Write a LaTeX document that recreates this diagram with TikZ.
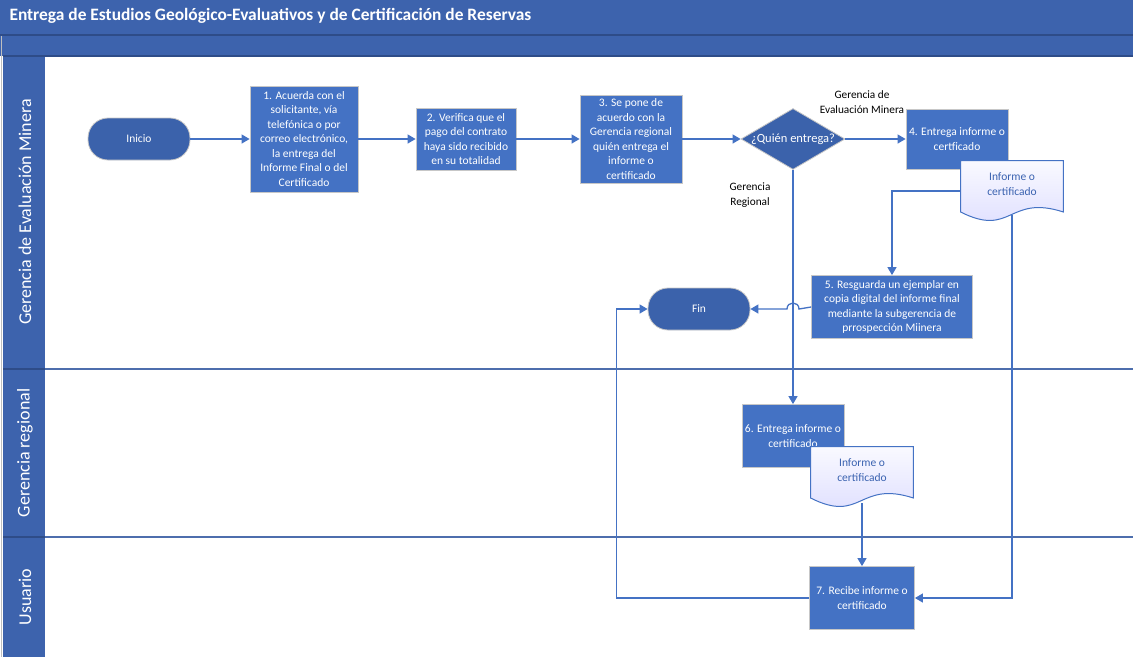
\documentclass[tikz,border=0pt]{standalone}
\usepackage{fontspec}
\setmainfont{Carlito}
\usetikzlibrary{shapes.geometric,arrows.meta}
\definecolor{hdrblue}{HTML}{3D63AD}
\definecolor{hdrline}{HTML}{2E4C88}
\definecolor{procblue}{HTML}{4472C4}
\definecolor{termblue}{HTML}{3B62AB}
\definecolor{linkblue}{HTML}{4472C4}
\definecolor{laneline}{HTML}{4D6EAD}
\definecolor{doctext}{HTML}{3A62B0}
\begin{document}
\begin{tikzpicture}[x=1pt, y=-1pt,
	proc/.style={rectangle, fill=procblue, draw=black!22, line width=0.8pt, text=white, align=center, inner sep=0pt, font=\fontsize{11.5}{14.5}\selectfont},
	term/.style={rectangle, rounded corners=20pt, fill=termblue, draw=black!22, line width=0.8pt, text=white, minimum width=102pt, minimum height=42pt, font=\fontsize{11.5}{14.5}\selectfont},
	docu/.style={rectangle, minimum width=104pt, minimum height=76pt, inner sep=0pt, text=doctext, align=center, font=\fontsize{11.5}{14.5}\selectfont,
		path picture={\shadedraw[top color=white, bottom color=blue!14, draw=linkblue, line width=1pt]
			([xshift=0.6pt,yshift=-14.6pt]path picture bounding box.north west) -- ([xshift=-0.6pt,yshift=-14.6pt]path picture bounding box.north east)
			-- ([xshift=-0.6pt,yshift=10pt]path picture bounding box.south east)
			.. controls ([xshift=48pt,yshift=28pt]path picture bounding box.south west) and ([xshift=52pt,yshift=-16pt]path picture bounding box.south west) ..
			([xshift=0.6pt,yshift=10pt]path picture bounding box.south west) -- cycle;}},
	lanetxt/.style={rotate=90, text=white, font=\fontsize{18}{21}\selectfont},
	link/.style={draw=linkblue, line width=1.3pt, -{Triangle[width=9pt,length=8pt]}},
	note/.style={align=center, font=\fontsize{11.3}{14.5}\selectfont}]
	\useasboundingbox (0,0) rectangle (1133,657);

	\fill[hdrblue] (0,0) rectangle (1133,56);
	\fill[hdrblue] (3,56) rectangle (45,657);
	\draw[black!25, line width=1pt] (1,35) -- (1,657);
	\draw[hdrline, line width=1.2pt] (0,35) -- (1133,35);
	\draw[hdrline, line width=1.2pt] (3,56) -- (1133,56);
	\draw[laneline, line width=1.4pt] (45,369) -- (1133,369);
	\draw[laneline, line width=1.4pt] (45,537) -- (1133,537);
	\draw[hdrline, line width=1.4pt] (3,369) -- (45,369);
	\draw[hdrline, line width=1.4pt] (3,537) -- (45,537);

	\node[anchor=west, text=white, font=\fontsize{17.4}{20}\selectfont\bfseries](title) at (6,16){Entrega de Estudios Geológico-Evaluativos y de Certificación de Reservas};
	\node[lanetxt](lane1) at (25,212){Gerencia de Evaluación Minera};
	\node[lanetxt](lane2) at (25,453){Gerencia regional};
	\node[lanetxt](lane3) at (25,597){Usuario};

	\node[term](ini) at (139,139){Inicio};
	\node[proc, minimum width=108pt, minimum height=106pt](b1) at (304,139){1. Acuerda con el\\solicitante, vía\\telefónica o por\\correo electrónico,\\la entrega del\\Informe Final o del\\Certificado};
	\node[proc, minimum width=100pt, minimum height=62pt](b2) at (466,139){2. Verifica que el\\pago del contrato\\haya sido recibido\\en su totalidad};
	\node[proc, minimum width=102pt, minimum height=88pt](b3) at (631,139){3. Se pone de\\acuerdo con la\\Gerencia regional\\quién entrega el\\informe o\\certificado};
	\node[diamond, fill=termblue, draw=black!22, line width=0.8pt, minimum width=104pt, minimum height=61pt, inner sep=0pt, text=white, font=\fontsize{12.5}{15}\selectfont](dia) at (793,139){\makebox[0pt]{¿Quién entrega?}};
	\node[proc, minimum width=102pt, minimum height=60pt](b4) at (957,139){4. Entrega informe o\\certficado};
	\node[docu](d1) at (1012,184){Informe o\\certificado};
	\node[proc, minimum width=161pt, minimum height=63pt](b5) at (892,307){5. Resguarda un ejemplar en\\copia digital del informe final\\mediante la subgerencia de\\prrospección Miinera};
	\node[term](fin) at (699,309){Fin};
	\node[proc, minimum width=102pt, minimum height=63pt](b6) at (793,436){6. Entrega informe o\\certificado};
	\node[docu](d2) at (862,470){Informe o\\certificado};
	\node[proc, minimum width=105pt, minimum height=63pt](b7) at (862,598){7. Recibe informe o\\certificado};

	\node[note](gem) at (862,102){Gerencia de\\Evaluación Minera};
	\node[note](gr) at (750,195){Gerencia\\Regional};

	\draw[link] (ini.east) -- (b1.west);
	\draw[link] (b1.east) -- (b2.west);
	\draw[link] (b2.east) -- (b3.west);
	\draw[link] (b3.east) -- (dia.west);
	\draw[link] (dia.east) -- (b4.west);
	\draw[link] (dia.south) -- (b6.north);
	\draw[link] ([yshift=-7pt]d1.west) -| (b5.north);
	\coordinate (hop) at (dia.south |- fin.east);
	\draw[link] (b5.west) -- ([xshift=6pt]hop) .. controls ([xshift=6pt,yshift=8pt]hop) and ([xshift=-6pt,yshift=8pt]hop) .. ([xshift=-6pt]hop) -- (fin.east);
	\draw[link] ([yshift=7pt]d1.south) |- (b7.east);
	\draw[link] ([yshift=5pt]d2.south) -- (b7.north);
	\draw[link] (b7.west) -| ([xshift=-31pt]fin.west) -- (fin.west);
\end{tikzpicture}
\end{document}
